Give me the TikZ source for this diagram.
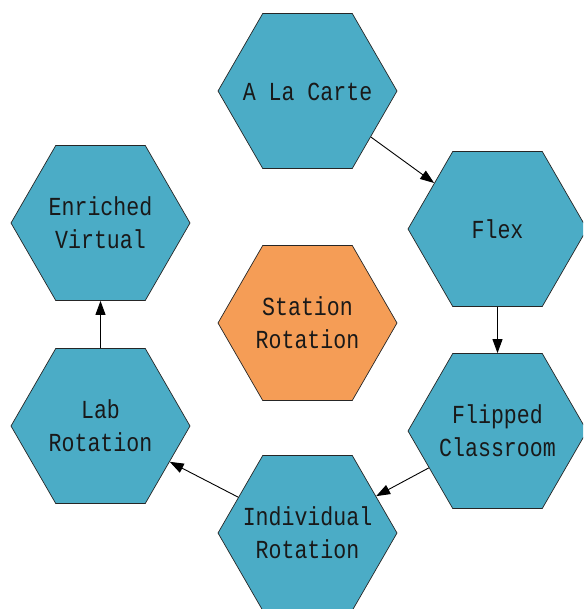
\documentclass[tikz,border=0pt]{standalone}
\usepackage{fontspec}
\newfontfamily\hexfont[FakeStretch=0.83]{Liberation Mono}
\usetikzlibrary{shapes.geometric,arrows.meta}
\definecolor{hexblue}{HTML}{4BACC6}
\definecolor{hexorange}{HTML}{F59D56}
\newcommand{\hxtext}[1]{\raisebox{-2.5pt}[\height][\depth]{\makebox[0pt]{\begin{tabular}{@{}c@{}}#1\end{tabular}}}}
\begin{document}
\begin{tikzpicture}[x=1pt,y=-1pt,
  hex/.style={regular polygon, regular polygon sides=6, minimum size=179pt, inner sep=0pt,
    draw=black!85, line width=0.7pt, fill=hexblue,
    font=\hexfont\fontsize{26}{33}\selectfont, text=black!90},
  link/.style={draw=black, line width=0.9pt, -{Triangle[length=14pt,width=10pt]}}]
\useasboundingbox (0,0) rectangle (583,609);
\clip (0,0) rectangle (583,609);
\node[hex] (alc) at (307.5,91) {\hxtext{A La Carte}};
\node[hex] (flex) at (497.5,229) {\hxtext{Flex}};
\node[hex] (flip) at (497.5,431) {\hxtext{Flipped\\Classroom}};
\node[hex] (ind) at (307.5,533) {\hxtext{Individual\\Rotation}};
\node[hex] (lab) at (100.5,426) {\hxtext{Lab\\Rotation}};
\node[hex] (env) at (100.5,223) {\hxtext{Enriched\\Virtual}};
\node[hex, fill=hexorange] (sta) at (307.5,323) {\hxtext{Station\\Rotation}};
\draw[link] (alc) -- (flex);
\draw[link] (flex) -- (flip);
\draw[link] (flip) -- (ind);
\draw[link] (ind) -- (lab);
\draw[link] (lab) -- (env);
\end{tikzpicture}
\end{document}
